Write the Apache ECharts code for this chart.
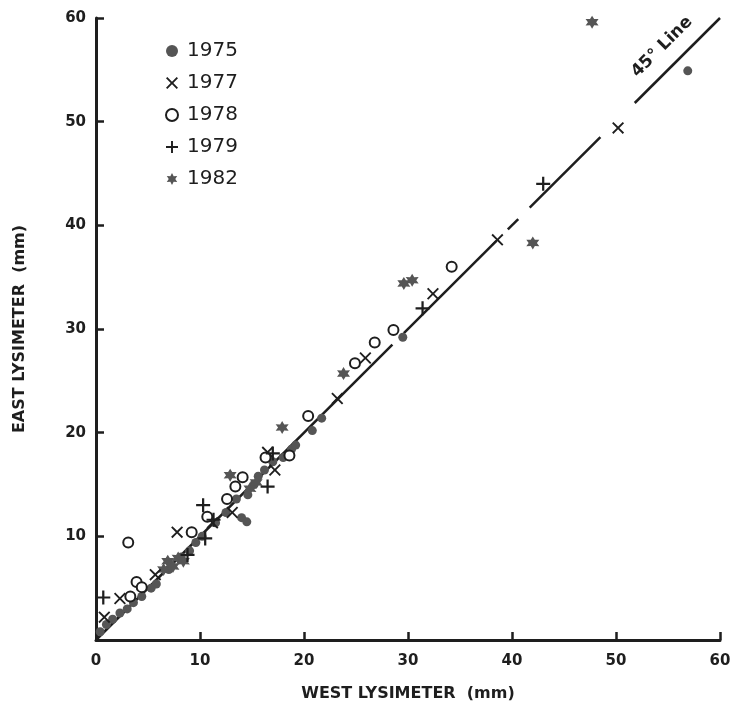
<!DOCTYPE html>
<html>
<head>
<meta charset="utf-8">
<script src="https://cdn.jsdelivr.net/npm/echarts@6/dist/echarts.min.js"></script>
<style>
  html, body { margin: 0; padding: 0; background: #fff; }
  #chart { width: 738px; height: 712px; }
</style>
</head>
<body>
<div id="chart"></div>
<script>
// values, [west, east] in mm
const years = ['1975', '1977', '1978', '1979', '1982']
const data1975 = [[0.4, 0.8], [1.0, 1.5], [1.6, 2.0], [2.3, 2.6], [3.0, 3.0], [3.6, 3.6], [4.4, 4.2], [5.3, 5.0], [5.8, 5.4], [7.0, 6.8], [8.2, 8.0], [9.0, 8.6], [9.6, 9.4], [10.2, 10.0], [11.5, 11.3], [12.5, 12.3], [13.5, 13.6], [14.0, 11.8], [14.5, 11.4], [14.6, 14.0], [15.2, 15.0], [15.6, 15.8], [16.2, 16.4], [17.0, 17.2], [18.0, 17.6], [18.8, 18.4], [19.2, 18.8], [20.8, 20.2], [21.7, 21.4], [29.5, 29.2], [56.9, 54.9]]
const data1977 = [[0.8, 2.2], [2.3, 4.0], [5.7, 6.3], [7.8, 10.4], [11.2, 11.3], [13.1, 12.3], [16.5, 18.1], [17.2, 16.4], [23.2, 23.3], [25.9, 27.2], [32.4, 33.4], [38.6, 38.6], [50.2, 49.4]]
const data1978 = [[3.1, 9.4], [3.3, 4.2], [3.9, 5.6], [4.4, 5.1], [9.2, 10.4], [10.7, 11.9], [12.6, 13.6], [13.4, 14.8], [14.1, 15.7], [16.3, 17.6], [18.6, 17.8], [20.4, 21.6], [24.9, 26.7], [26.8, 28.7], [28.6, 29.9], [34.2, 36.0]]
const data1979 = [[0.7, 4.1], [8.8, 8.2], [10.3, 13.0], [10.5, 9.8], [11.3, 11.6], [16.5, 14.8], [17.0, 18.0], [31.4, 32.0], [43.0, 44.0]]
const data1982 = [[6.5, 6.8], [6.9, 7.6], [7.4, 7.1], [7.9, 7.9], [8.4, 7.6], [12.9, 15.9], [14.8, 14.6], [15.4, 15.2], [17.9, 20.5], [23.8, 25.7], [29.6, 34.4], [30.4, 34.7], [42.0, 38.3], [47.7, 59.6]]
// pieces of the hand drawn 45 degree line (it is broken in the original)
const lineSegments = [[0, 28.5], [29.6, 38.5], [39.6, 40.6], [41.7, 48.5], [51.8, 60]]
const axisTicks = [0, 10, 20, 30, 40, 50, 60]

const ink = '#1e1e1e'
const grey = '#555'
const font = '"DejaVu Sans", sans-serif'

// six pointed star for 1982
const starPath = (() => {
  let d = ''
  for (let i = 0; i < 12; i++) {
    const r = i % 2 === 0 ? 10 : 5.5
    const a = (Math.PI / 6) * i - Math.PI / 2
    d += (i === 0 ? 'M' : 'L') + (10 + r * Math.cos(a)).toFixed(2) + ',' + (10 + r * Math.sin(a)).toFixed(2)
  }
  return 'path://' + d + 'Z'
})()
const plusPath = 'path://M4.2,0 L5.8,0 L5.8,4.2 L10,4.2 L10,5.8 L5.8,5.8 L5.8,10 L4.2,10 L4.2,5.8 L0,5.8 L0,4.2 L4.2,4.2 Z'
const crossPath = 'path://M0,1.1 L1.1,0 L5,3.9 L8.9,0 L10,1.1 L6.1,5 L10,8.9 L8.9,10 L5,6.1 L1.1,10 L0,8.9 L3.9,5 Z'

const chart = echarts.init(document.getElementById('chart'))

const lineSeries = lineSegments.map((seg) => ({
  type: 'line',
  data: [[seg[0], seg[0]], [seg[1], seg[1]]],
  symbol: 'none',
  silent: true,
  z: 1,
  lineStyle: { color: ink, width: 2.5 },
}))

const axisCommon = {
  type: 'value',
  min: axisTicks[0],
  max: axisTicks[axisTicks.length - 1],
  interval: 10,
  nameLocation: 'middle',
  nameTextStyle: { fontFamily: font, fontWeight: 'bold', fontSize: 16, color: ink },
  axisLine: { show: true, lineStyle: { color: ink, width: 3 } },
  axisTick: { show: true, inside: true, length: 8, lineStyle: { color: ink, width: 2.5 } },
  axisLabel: { fontFamily: font, fontWeight: 'bold', fontSize: 15, color: ink },
  splitLine: { show: false },
}

const option = {
  backgroundColor: '#fff',
  animation: false,
  grid: { left: 96, right: 18, top: 18, bottom: 72 },
  legend: {
    data: years,
    orient: 'vertical',
    left: 160,
    top: 36,
    itemGap: 12,
    itemWidth: 12,
    itemHeight: 12,
    textStyle: { fontFamily: font, fontSize: 20, color: ink, padding: [0, 0, 0, 4] },
  },
  xAxis: {
    ...axisCommon,
    name: 'WEST LYSIMETER  (mm)',
    nameGap: 46,
    axisLabel: { ...axisCommon.axisLabel, margin: 14 },
  },
  yAxis: {
    ...axisCommon,
    name: 'EAST LYSIMETER  (mm)',
    nameGap: 68,
    axisLabel: { ...axisCommon.axisLabel, margin: 10, showMinLabel: false },
  },
  graphic: [{
    type: 'text',
    x: 662,
    y: 47,
    rotation: Math.PI / 4,
    style: {
      text: '45° Line',
      fontFamily: font,
      fontWeight: 'bold',
      fontSize: 17,
      fill: ink,
      align: 'center',
      verticalAlign: 'middle',
    },
  }],
  series: [
    ...lineSeries,
    {
      name: '1975',
      type: 'scatter',
      data: data1975,
      symbol: 'circle',
      symbolSize: 9,
      itemStyle: { color: grey, opacity: 1 },
      z: 3,
    },
    {
      name: '1977',
      type: 'scatter',
      data: data1977,
      symbol: crossPath,
      symbolSize: 12,
      itemStyle: { color: ink, opacity: 1 },
      z: 4,
    },
    {
      name: '1978',
      type: 'scatter',
      data: data1978,
      symbol: 'emptyCircle',
      symbolSize: 10,
      itemStyle: { color: ink, borderColor: ink, borderWidth: 1.8, opacity: 1 },
      z: 4,
    },
    {
      name: '1979',
      type: 'scatter',
      data: data1979,
      symbol: plusPath,
      symbolSize: 14,
      itemStyle: { color: ink, opacity: 1 },
      z: 4,
    },
    {
      name: '1982',
      type: 'scatter',
      data: data1982,
      symbol: starPath,
      symbolSize: 13,
      itemStyle: { color: grey, opacity: 1 },
      z: 3,
    },
  ],
}

chart.setOption(option)
window.addEventListener('resize', () => {
  chart.resize()
})
</script>
</body>
</html>
